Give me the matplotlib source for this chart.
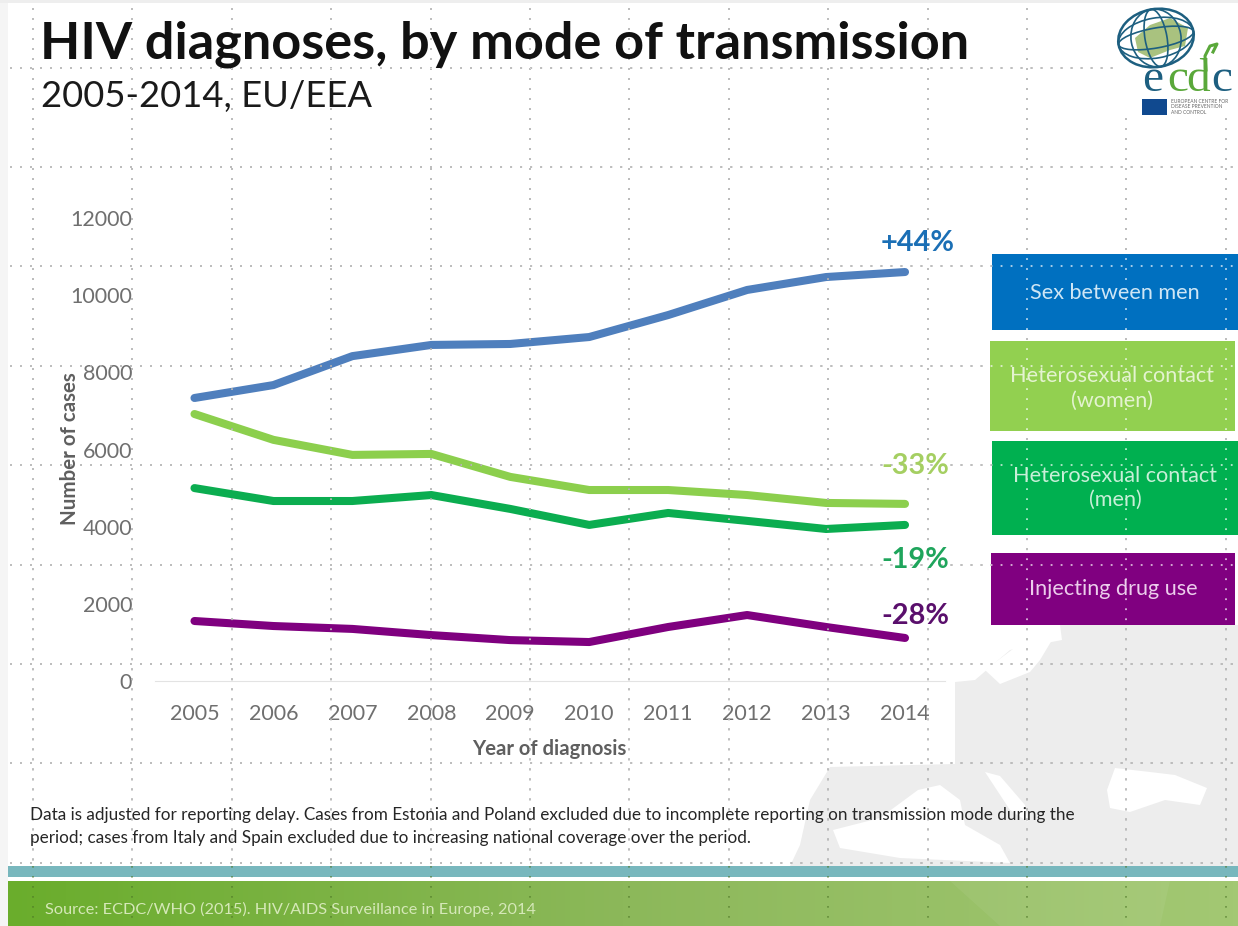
import numpy as np
import matplotlib
matplotlib.use('Agg')
import matplotlib.pyplot as plt
from matplotlib.patches import Rectangle, Polygon, Ellipse

plt.rcParams['font.family'] = ['Lato', 'DejaVu Sans']

years = [2005, 2006, 2007, 2008, 2009, 2010, 2011, 2012, 2013, 2014]
msm = [7335, 7670, 8420, 8710, 8735, 8915, 9485, 10135, 10470, 10600]
het_women = [6920, 6250, 5860, 5885, 5290, 4950, 4950, 4820, 4615, 4590]
het_men = [5000, 4665, 4665, 4820, 4460, 4045, 4355, 4150, 3940, 4045]
idu = [1555, 1425, 1350, 1190, 1060, 1010, 1400, 1710, 1400, 1115]
yticks = [0, 2000, 4000, 6000, 8000, 10000, 12000]

W, H = 1238, 926
GREY = '#6f6f6f'
DOTS = (0, (1.1, 5.45))
fig = plt.figure(figsize=(W / 100, H / 100), dpi=100, facecolor='white')

# slide background, in pixel coordinates
bg = fig.add_axes([0, 0, 1, 1], zorder=0)
bg.axis('off')
bg.add_patch(Rectangle((0, 0), 8, H, color='#f5f5f5', lw=0))
bg.add_patch(Rectangle((0, 0), W, 3, color='#eeeeee', lw=0))

# faint map of Europe
land = [
    [(1238, 625), (1060, 625), (1062, 640), (1010, 650), (975, 680), (955, 682), (955, 764), (830, 767),
     (810, 800), (800, 845), (790, 866), (1238, 866)],
]
water = [
    [(1107, 790), (1115, 768), (1150, 772), (1175, 775), (1207, 788), (1200, 805), (1165, 800), (1130, 812), (1110, 808)],
    [(833, 830), (880, 818), (918, 790), (940, 785), (960, 800), (965, 825), (1000, 845), (1010, 863), (900, 858), (840, 848)],
    [(985, 772), (1000, 776), (1025, 805), (1028, 822), (1010, 810)],
    [(1025, 640), (1058, 630), (1040, 660), (1030, 672), (1000, 684), (985, 670)],
]
for pts in land:
    bg.add_patch(Polygon(pts, color='#ededed', lw=0))
for pts in water:
    bg.add_patch(Polygon(pts, color='white', lw=0))

bg.add_patch(Rectangle((8, 866), W - 8, 11, color='#78b7bd', lw=0))
grad = np.linspace(0, 1, 256).reshape(1, -1)
cmap = matplotlib.colors.LinearSegmentedColormap.from_list('foot', ['#6aad2c', '#8cb85a', '#a3c873'])
bg.imshow(grad, extent=(8, W, 926, 881), aspect='auto', cmap=cmap, zorder=1)
bg.add_patch(Polygon([(950, 881), (1170, 881), (1160, 926), (1000, 926)], color='white', alpha=0.06, lw=0, zorder=2))
bg.set_xlim(0, W)
bg.set_ylim(H, 0)

# slide guides, under the boxes
guide_x = 33 + 99.4 * np.arange(13)
guide_y = 67.5 + 99.4 * np.arange(9)

# chart
left, right, top, bottom = 155, 944.5, 218, 681
ax = fig.add_axes([left / W, 1 - bottom / H, (right - left) / W, (bottom - top) / H], zorder=1)
ax.patch.set_alpha(0)
ax.plot(years, msm, color='#4f7fbd', lw=5.8, solid_capstyle='round')
ax.plot(years, het_women, color='#8ccf4d', lw=5.8, solid_capstyle='round')
ax.plot(years, het_men, color='#0bad50', lw=5.8, solid_capstyle='round')
ax.plot(years, idu, color='#7f007f', lw=5.8, solid_capstyle='round')
ax.set_xlim(2004.5, 2014.5)
ax.set_ylim(0, 12000)
ax.set_xticks(years)
ax.set_yticks(yticks)
ax.tick_params(length=0, labelsize=15.5, labelcolor=GREY)
ax.tick_params(axis='x', pad=16.5)
ax.tick_params(axis='y', pad=16.5)
for s in ['top', 'right', 'left']:
    ax.spines[s].set_visible(False)
ax.spines['bottom'].set_color('#e3e3e3')
ax.set_xlabel('Year of diagnosis', fontsize=14.6, fontweight='bold', color='#5f5f5f')
ax.xaxis.set_label_coords(0.5, -0.1255)
ax.set_ylabel('Number of cases', fontsize=14.8, fontweight='bold', color='#5f5f5f')
ax.yaxis.set_label_coords((80 - left) / (right - left), 0.501)

# text, boxes and guide dots on top
top_ax = fig.add_axes([0, 0, 1, 1], zorder=2)
top_ax.set_xlim(0, W)
top_ax.set_ylim(H, 0)
top_ax.axis('off')

for gx in guide_x:
    top_ax.plot([gx, gx], [8, 866], color='#111111', lw=1.1, ls=DOTS, zorder=1)
    top_ax.plot([gx, gx], [866, 926], color='#4a7324', lw=1.1, ls=DOTS, alpha=0.7, zorder=1)
for gy in guide_y:
    top_ax.plot([10, W], [gy, gy], color='#111111', lw=1.1, ls=DOTS, zorder=1)

top_ax.text(40, 44, 'HIV diagnoses, by mode of transmission', fontsize=37.6, fontweight='bold',
            color='#111111', va='center', zorder=3)
top_ax.text(41, 97, '2005-2014, EU/EEA', fontsize=26.2, color='#1a1a1a', va='center', zorder=3)

for label, x, y, c in [('+44%', 918, 243, '#1b6fb5'), ('-33%', 915, 466, '#a5cf62'),
                       ('-19%', 915, 560, '#1fa55c'), ('-28%', 915, 616, '#5a0f6c')]:
    top_ax.text(x, y, label, fontsize=20.8, fontweight='bold', color=c, ha='center', va='center', zorder=3)

boxes = [(992, 254, 246, 76, '#0070c0', 'Sex between men', '#cfe6f5', 1),
         (990, 341, 245, 90, '#92d050', 'Heterosexual contact\n(women)', '#e4f3d0', 2.5),
         (992, 441, 246, 94, '#00b050', 'Heterosexual contact\n(men)', '#c8efd8', 0),
         (991, 553, 244, 72, '#800080', 'Injecting drug use', '#eccdec', 0)]
for x, y, w, h, c, label, tc, dy in boxes:
    box = Rectangle((x, y), w, h, color=c, lw=0, zorder=2)
    top_ax.add_patch(box)
    for gx in guide_x:
        top_ax.plot([gx, gx], [8, 866], color='white', lw=1.1, ls=DOTS, alpha=0.3, zorder=2.5, clip_path=box)
    for gy in guide_y:
        top_ax.plot([10, W], [gy, gy], color='white', lw=1.1, ls=DOTS, alpha=0.3, zorder=2.5, clip_path=box)
    top_ax.text(x + w / 2, y + h / 2 + dy, label, fontsize=15.6, color=tc, ha='center', va='center',
                linespacing=1.25, zorder=3)

top_ax.text(30, 815, 'Data is adjusted for reporting delay. Cases from Estonia and Poland excluded due to '
            'incomplete reporting on transmission mode during the', fontsize=12.3, color='#262626', va='center', zorder=3)
top_ax.text(30, 838, 'period; cases from Italy and Spain excluded due to increasing national coverage over '
            'the period.', fontsize=12.3, color='#262626', va='center', zorder=3)
top_ax.text(45, 909, 'Source: ECDC/WHO (2015). HIV/AIDS Surveillance in Europe, 2014', fontsize=11.7,
            color='#d5e8b8', va='center', zorder=3)

# logo
top_ax.add_patch(Rectangle((1118, 6), 120, 112, color='white', lw=0, zorder=2))
gl = dict(angle=-10, fc='none', ec='#1d5f80', zorder=3)
top_ax.add_patch(Polygon([(1135, 38), (1150, 25), (1170, 18), (1188, 28), (1185, 46), (1170, 50), (1150, 58), (1138, 52)],
                         color='#a9c27f', lw=0, zorder=2.5))
top_ax.add_patch(Ellipse((1156, 38), 76, 58, lw=1.8, **gl))
for w in [22, 50]:
    top_ax.add_patch(Ellipse((1156, 38), w, 58, lw=1.2, **gl))
for h in [20, 40]:
    top_ax.add_patch(Ellipse((1156, 38), 76, h, lw=1.2, **gl))
for letter, x, c in [('e', 1142, '#1d5f80'), ('c', 1167, '#5aa83a'), ('d', 1186, '#5aa83a'), ('c', 1211, '#1d5f80')]:
    top_ax.text(x, 91, letter, fontsize=34, color=c, family='Liberation Serif', va='baseline', zorder=4)
top_ax.plot([1206, 1205, 1210, 1217, 1213], [70, 56, 46, 44, 52], color='#5aa83a', lw=2.2, zorder=4)
top_ax.add_patch(Rectangle((1142, 99), 25, 16, color='#10498f', lw=0, zorder=3))
top_ax.text(1171, 107, 'EUROPEAN CENTRE FOR\nDISEASE PREVENTION\nAND CONTROL', fontsize=3.5, color='#666666',
            va='center', linespacing=1.05, zorder=3)

fig.savefig('out.png', dpi=100)
